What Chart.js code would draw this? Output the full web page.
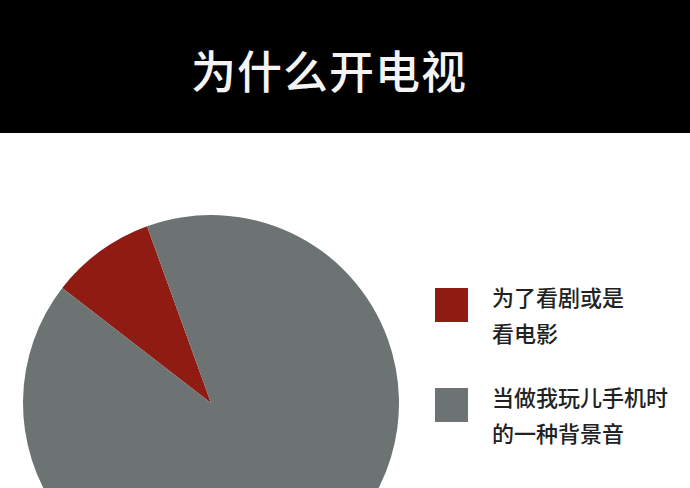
<!DOCTYPE html>
<html>
<head>
<meta charset="utf-8">
<script src="https://cdn.jsdelivr.net/npm/chart.js@4"></script>
<style>
  html, body { margin: 0; padding: 0; width: 690px; height: 488px; overflow: hidden; background: #fff; font-family: "Noto Sans CJK SC", sans-serif; }
  #header { position: absolute; left: 0; top: 0; width: 690px; height: 133px; background: #000; }
  #title { position: absolute; left: 0; width: 658px; top: 40px; text-align: center; color: #f4f4f4; font-size: 45px; font-weight: 500; line-height: 60px; letter-spacing: 1px; }
  #pieBox { position: absolute; left: 23px; top: 215px; width: 376px; height: 376px; }
  #legend { position: absolute; left: 435px; top: 278px; }
  .item { position: relative; height: 100px; }
  .swatch { position: absolute; left: 0; top: 10px; width: 33px; height: 34px; }
  .text { position: absolute; left: 57px; top: 0; color: #222; font-size: 22px; font-weight: 500; line-height: 36px; white-space: nowrap; }
</style>
</head>
<body>
<div id="header"><div id="title"></div></div>
<div id="pieBox"><canvas id="pie"></canvas></div>
<div id="legend"></div>
<script>
const title = '为什么开电视';
const labels = [['为了看剧或是', '看电影'], ['当做我玩儿手机时', '的一种背景音']];
const values = [9, 91];
const colors = ['#8f1b13', '#6c7372'];

document.getElementById('title').textContent = title;

const chart = new Chart(document.getElementById('pie').getContext('2d'), {
  type: 'pie',
  data: {
    labels: labels,
    datasets: [{
      data: values,
      backgroundColor: colors,
      borderWidth: 0
    }]
  },
  options: {
    responsive: true,
    maintainAspectRatio: false,
    animation: false,
    rotation: -52.3,
    layout: { padding: 0 },
    plugins: {
      legend: { display: false },
      tooltip: { enabled: false }
    }
  }
});

// legend built from the chart's own label items
const legendEl = document.getElementById('legend');
chart.options.plugins.legend.labels.generateLabels(chart).forEach(item => {
  const row = document.createElement('div');
  row.className = 'item';
  const sw = document.createElement('div');
  sw.className = 'swatch';
  sw.style.background = item.fillStyle;
  const txt = document.createElement('div');
  txt.className = 'text';
  const lines = Array.isArray(item.text) ? item.text : [item.text];
  txt.innerHTML = lines.join('<br>');
  row.appendChild(sw);
  row.appendChild(txt);
  legendEl.appendChild(row);
});
</script>
</body>
</html>
